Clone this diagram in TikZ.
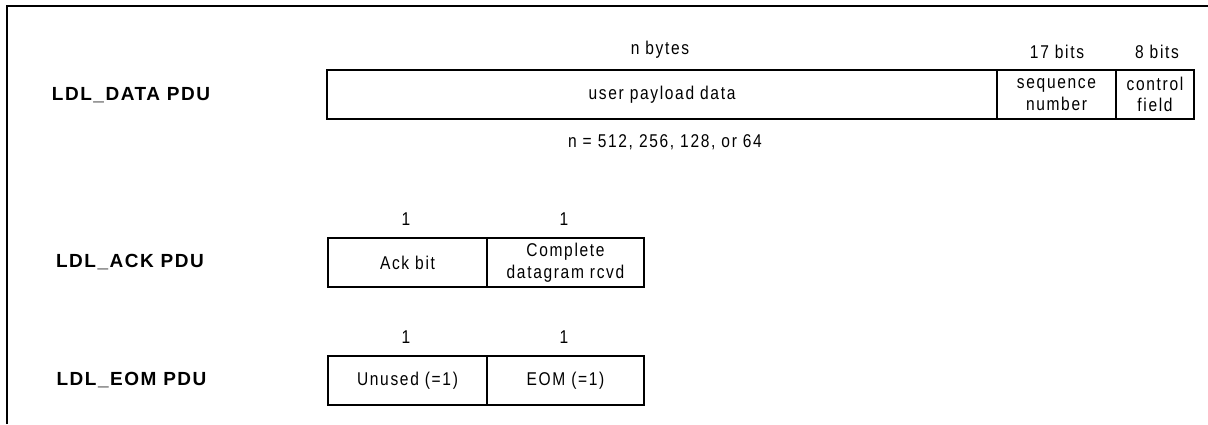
\documentclass[tikz,border=0pt]{standalone}
\usepackage{fontspec}
\setmainfont{Liberation Sans}
\newfontfamily\fieldfont[FakeStretch=0.84,LetterSpace=9]{Liberation Sans}
\newfontfamily\pdufont[LetterSpace=8]{Liberation Sans Bold}
\begin{document}
\begin{tikzpicture}[x=1pt,y=-1pt,
  field/.style={draw=black,line width=1.3pt,rectangle,inner sep=0pt,
    minimum height=49pt,align=center,font=\fieldfont\fontsize{18.5}{21.5}\selectfont},
  lbl/.style={inner sep=0pt,font=\fieldfont\fontsize{18.5}{21.5}\selectfont},
  pdu/.style={inner sep=0pt,font=\pdufont\fontsize{19}{22}\selectfont}]
\useasboundingbox (0,0) rectangle (1208,424);
% outer frame (top and left edges)
\draw[line width=2.6pt] (7,424) -- (7,6) -- (1208,6);

% LDL_DATA PDU
\node[pdu] (datalbl) at (131,95) {LDL\_DATA PDU};
\node[field,minimum width=670pt] (payload) at (662,94.5) {user payload data};
\node[field,minimum width=119pt] (seq) at (1056.5,94.5) {sequence\\number};
\node[field,minimum width=78pt] (ctrl) at (1155,94.5) {control\\field};
\node[lbl] (nbytes) at (660,50) {n bytes};
\node[lbl] (seqbits) at (1057,52) {17 bits};
\node[lbl] (ctrlbits) at (1157,52) {8 bits};
\node[lbl] (nvals) at (665,142) {n = 512, 256, 128, or 64};

% LDL_ACK PDU
\node[pdu] (acklbl) at (130,262) {LDL\_ACK PDU};
\node[field,minimum width=159pt] (ackbit) at (407.5,262.5) {Ack bit};
\node[field,minimum width=157pt] (complete) at (565.5,262.5) {Complete\\datagram rcvd};
\node[lbl] (ackw1) at (406,219) {1};
\node[lbl] (ackw2) at (564,219) {1};

% LDL_EOM PDU
\node[pdu] (eomlbl) at (131.5,380) {LDL\_EOM PDU};
\node[field,minimum width=159pt] (unused) at (407.5,380.5) {Unused (=1)};
\node[field,minimum width=157pt] (eom) at (565.5,380.5) {EOM (=1)};
\node[lbl] (eomw1) at (406,337) {1};
\node[lbl] (eomw2) at (564,337) {1};
\end{tikzpicture}
\end{document}
